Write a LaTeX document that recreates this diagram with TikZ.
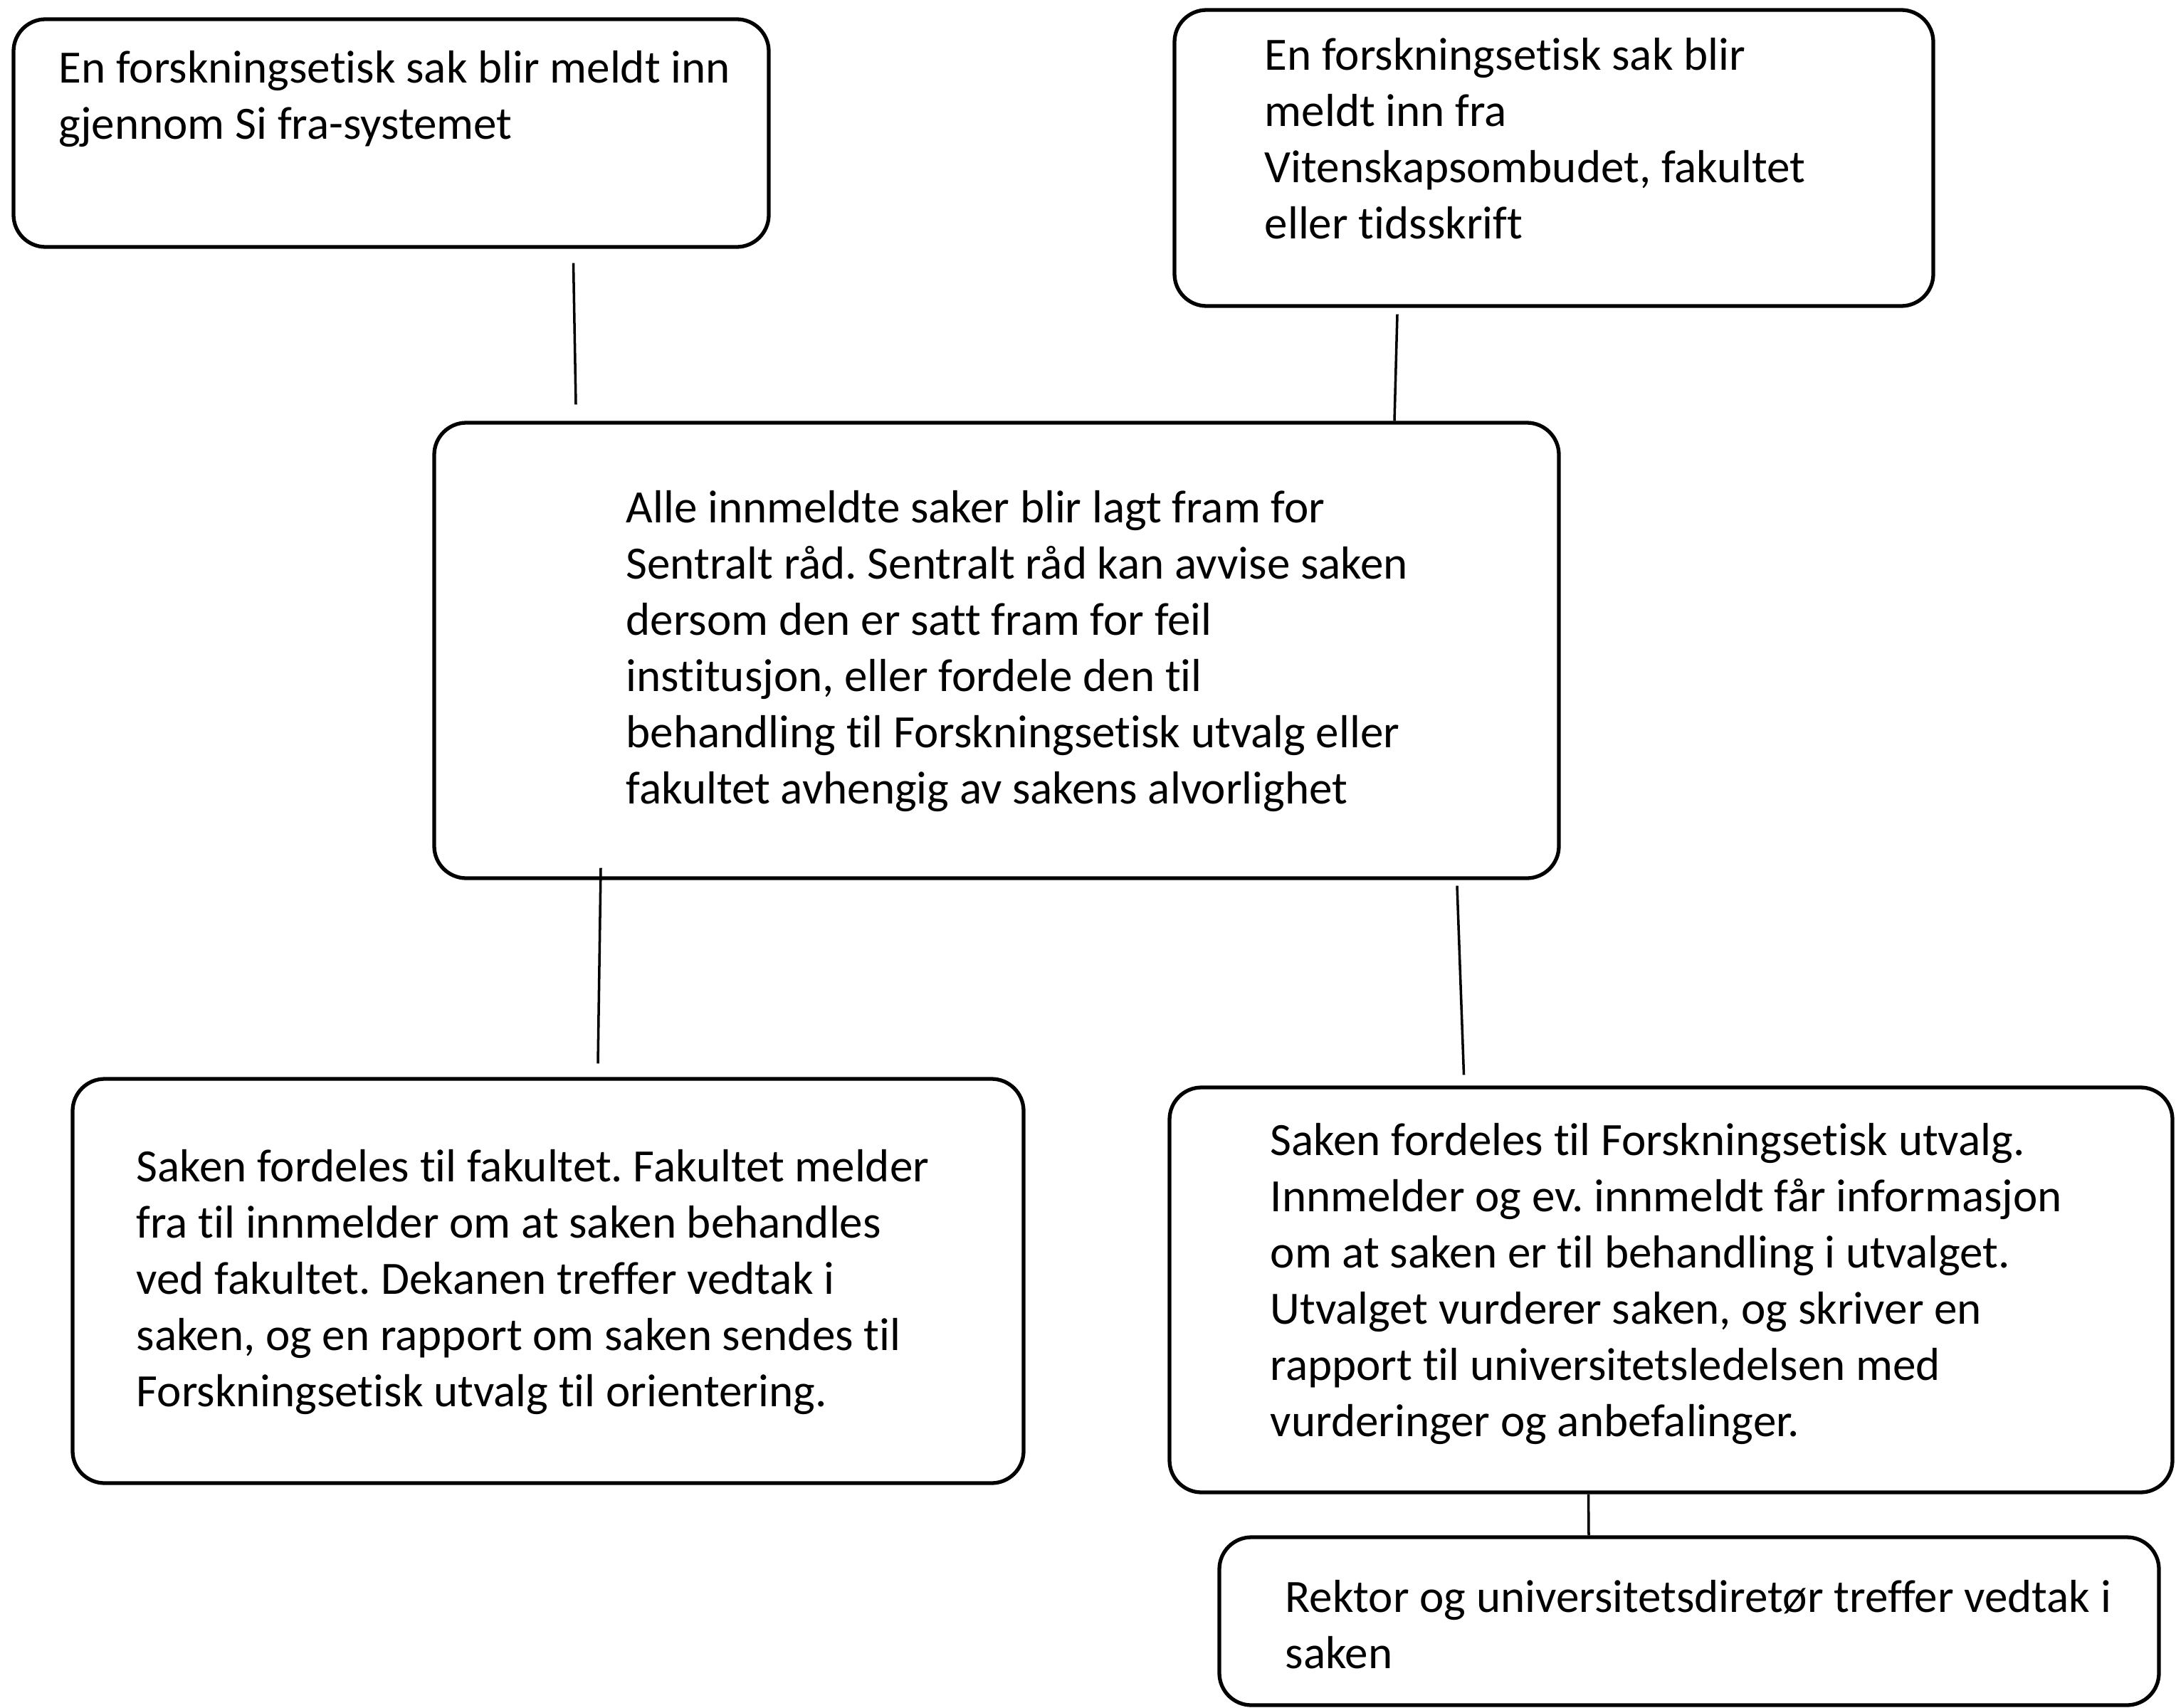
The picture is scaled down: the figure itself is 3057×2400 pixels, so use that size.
\documentclass[tikz,border=0pt]{standalone}
\usepackage{fontspec}
\setmainfont[Ligatures=NoCommon]{Carlito}
\usetikzlibrary{calc}
\frenchspacing
\tikzset{
  box/.style={draw=black, line width=1.5pt, rounded corners=0.45cm, fill=white},
  txt/.style={anchor=north west, inner sep=0pt, align=left, text=black,
    font=\fontsize{18.5}{22.5}\selectfont},
  conn/.style={draw=black, line width=1pt}
}
\newcommand{\bx}[5]{% name, x1, y1, x2, y2
  \node[box, minimum width={(#4-#2)*0.01cm}, minimum height={(#5-#3)*0.01cm}, inner sep=0pt]
    (#1) at ({(#2+#4)/2},{(#3+#5)/2}) {};}
\begin{document}
\begin{tikzpicture}[x=0.01cm, y=-0.01cm]
\useasboundingbox (0,0) rectangle (3057,2400);
\fill[white] (0,0) rectangle (3057,2400);

\bx{b1}{19}{27}{1080}{347}
\bx{b2}{1650}{14}{2716}{430}
\bx{b3}{610}{594}{2190}{1234}
\bx{b4}{102}{1516}{1438}{2084}
\bx{b5}{1643}{1528}{3052}{2097}
\bx{b6}{1713}{2160}{3033}{2396}

% texts (north = first baseline - 0.7 baselineskip = 55px)
\node[txt] (t1) at (82,60) {\strut En forskningsetisk sak blir meldt inn\\gjennom Si fra-systemet};
\node[txt] (t2) at (1776,42) {\strut En forskningsetisk sak blir\\meldt inn fra\\Vitenskapsombudet, fakultet\\eller tidsskrift};
\node[txt] (t3) at (879,678) {\strut Alle innmeldte saker blir lagt fram for\\Sentralt råd. Sentralt råd kan avvise saken\\dersom den er satt fram for feil\\institusjon, eller fordele den til\\behandling til Forskningsetisk utvalg eller\\fakultet avhengig av sakens alvorlighet};
\node[txt] (t4) at (191,1604) {\strut Saken fordeles til fakultet. Fakultet melder\\fra til innmelder om at saken behandles\\ved fakultet. Dekanen treffer vedtak i\\saken, og en rapport om saken sendes til\\Forskningsetisk utvalg til orientering.};
\node[txt] (t5) at (1784,1567) {\strut Saken fordeles til Forskningsetisk utvalg.\\Innmelder og ev. innmeldt får informasjon\\om at saken er til behandling i utvalget.\\Utvalget vurderer saken, og skriver en\\rapport til universitetsledelsen med\\vurderinger og anbefalinger.};
\node[txt] (t6) at (1805,2209) {\strut Rektor og universitetsdiretør treffer vedtak i\\saken};

% connectors
\draw[conn] ($(b1.south)+(256,20)$) -- ($(b3.north)+(-591,-23)$);
\draw[conn] ($(b2.south)+(-220,9)$) -- ($(b3.north)+(559,0)$);
\draw[conn] ($(b3.south)+(-556,-17)$) -- ($(b4.north)+(70,-19)$);
\draw[conn] ($(b3.south)+(647,8)$) -- ($(b5.north)+(-291,-15)$);
\draw[conn] ($(b5.south)+(-116,0)$) -- ($(b6.north)+(-141,0)$);
\end{tikzpicture}
\end{document}
